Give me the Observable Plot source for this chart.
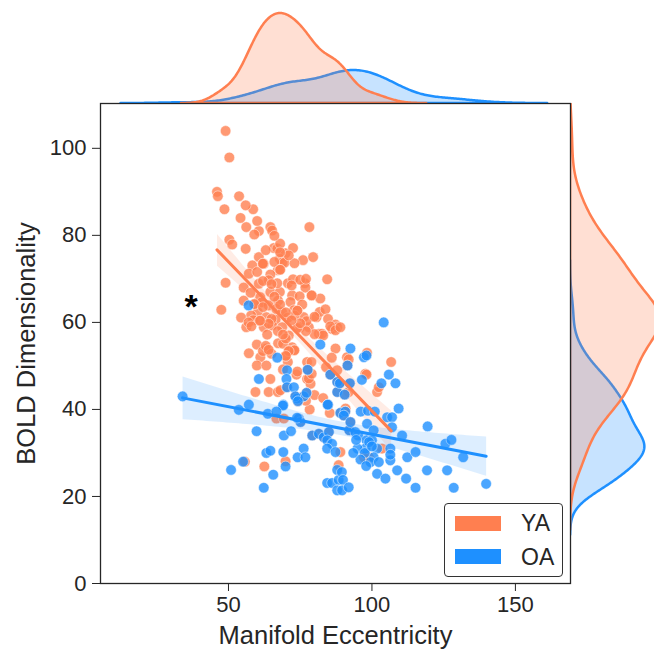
<!DOCTYPE html>
<html><head><meta charset="utf-8">
<script src="https://cdn.jsdelivr.net/npm/d3@7"></script>
<script src="https://cdn.jsdelivr.net/npm/@observablehq/plot@0.6"></script>
<style>
html,body{margin:0;padding:0;background:#fff;overflow:hidden}
#wrap{position:relative;width:654px;height:654px;overflow:hidden;font-family:"Liberation Sans",Arial,sans-serif;color:#262626;background:#fff}
#wrap > svg,#wrap > div{position:absolute}
#legend{left:444px;top:503px;width:119px;height:74px;border:1.3px solid #333;border-radius:4px;background:#fff;box-sizing:border-box}
#legend .row{position:absolute;left:10px;height:16px;display:flex;align-items:center}
#legend .sw{width:46px;height:15px}
#legend .lb{position:absolute;left:76px;font-size:23px;line-height:23px;color:#262626;white-space:nowrap}
</style></head><body><div id="wrap"></div>
<script>
// ---------- data ----------
const groups = ["YA", "OA"];
const groupColors = ["#FF7F50", "#1E90FF"];
const xLabel = "Manifold Eccentricity";
const yLabel = "BOLD Dimensionality";
const xTicks = [50, 100, 150];
const yTicks = [0, 20, 40, 60, 80, 100];
const xDomain = [5.4, 169.2];
const yDomain = [0, 110.3];

const yaX = [49,50.3,46,46.3,53.7,48.6,58.6,54.2,56.2,60.6,64.6,65.2,78.2,50.3,51.3,65.8,69.9,72.5,60.6,67.9,76,79.5,
  68.7,69.5,62.3,58.3,67.2,64.6,57.1,60,84.4,49,60.6,70.7,72.5,76.6,76.8,55.3,64.6,67.9,57.7,61.1,67.3,72.2,74.8,55.3,
  61.5,64,66.7,71.6,75.7,47.5,68.7,72.8,60.2,57.9,54.4,63.2,66.4,70.7,76.2,80.7,81.8,83.8,84.7,56.2,58.6,62.3,65.2,68.7,
  75.1,78,77.2,87.3,86.1,63.5,71,67.2,87.9,87.3,81.5,59.9,57.1,63.2,72.2,67.3,61.1,59.9,63.2,73.7,64.6,77.4,59.4,64,67.2,
  82.6,62,70.7,72.8,69,91.3,77.4,78.9,78.6,97.7,68.1,76,78.3,66.7,69.3,85.3,55.7,62.5,69.9,89,90.8,101.8,103.5,98.9,88.4,
  97.2,85.5,87.3,89,83,91.9,91.4,98.3,106.7,87.9,98.1,102.4,91.9,
  56,59,62,63,66,68,70,73,61,64,67,71,74,57,59,62,65,68,70,73,75,78,80,58,63,66,69,71,74,77,79,59,62,65,68,70,73,77,80,
  56,60,64,67,69,72,74,79,82,61,65,68,71,74,77,80,84,62,66,70,75,79,83,86,64,68,72,
  79.2,81.5,83.2,85,84.7,87.9,73.3,74.2,70.4,85.5,87.9,84.6,89,90.7,90.2,92.5,92.1,92.3,90.5,77.6,77.2,88.8,73.9,76.2,74.5,75.1];
const yaY = [104,97.9,90,89,89,86,86,84,81.9,81,81.9,81.1,81.9,79,77.9,77.1,75.9,77.1,75,74.6,74.3,75,
  73.7,73.7,73.5,73.1,72,71,71.2,71.6,69.9,69.1,68.9,69,69.9,69,68,68,67,67,66.8,65.8,65,66.2,66,65,
  64.6,63.9,63.1,64.7,64.1,62.9,62.4,62.8,62.4,61.6,61.1,61.2,60.6,61.1,61.2,61.2,62.4,63,60.8,58.9,60.5,58.9,59.3,58.9,
  58.9,58.9,60.3,59.5,58.5,57.2,57,58,58.9,54,57.4,54.9,52.9,54,54.3,55.2,52,50.1,50.1,48,47,47,44,44,44,
  57.4,53.4,50.9,53.6,55.1,52,50.9,50.9,45.9,48.2,44.4,43,40,37.9,37.9,39.2,28,26.9,28.1,30.2,40.2,44,31,29,27.2,
  29,59.1,58.2,58.9,57,51.5,50.1,53,50.9,49,48,45.1,44,
  86.9,64.2,73.5,54.6,73.9,64.1,56.3,73.6,60.4,69.7,77,53.4,62.7,60,80.2,69.5,60.8,78.1,52.3,61.6,69.8,47.1,57.3,
  59.1,76.6,65.9,57.2,75.4,48.7,58,66.2,64.2,73.5,52.8,72.1,62.3,53.6,70,43.3,
  76.9,83.3,59.7,69,49.2,68.5,58.7,48.2,65.5,60.4,68.8,76.1,53.4,62.7,42,61.3,49.7,
  63.5,79.9,52.3,59.8,66.2,42.6,51.9,53.7,72.1,60.5,
  34,34.4,33.6,34.8,41.1,44,43,41.9,45.1,48,46.3,41.1,39.2,39.5,38.6,37.1,35.2,46,43.4,49.1,43.8,46,42.5,43,37.9,37.1];

const oaX = [34,53.6,57.1,63.7,59.8,69.1,69.3,71.8,73.9,76.2,74.5,75.1,79.2,81.5,83.2,85,84.7,87.9,84.4,86.1,84.4,87.3,
  63.2,69.1,76.2,74.1,76.8,55.1,69.9,50.9,65.6,62.3,84.4,86.1,87.9,88.4,87.9,57,82,67,70.4,77.6,85.5,60.6,70.2,87.9,
  70.4,72.8,77.2,73.3,74.2,88.8,84.6,69,66.7,73.9,89,90.7,96.1,98.6,101,92.1,95.2,98.1,64.6,90.2,92.5,109.3,105.3,107,
  107,98.3,100.6,94.2,110.5,119.4,125.6,127.7,131.8,100,97.7,101.8,106.4,100.6,99.5,102.4,106.4,106.4,112.3,115.2,108.8,
  119.2,126.2,101.8,104.7,111.9,115.2,128.5,139.8,89.5,89.9,89.6,91.9,104.1,92.5,97.2,98.1,91.5,105.9,96.5,92.3,103.3,
  108.2,90.5,
  95,97.5,99,96,98,93.5,100,94.5];
const oaY = [43,39.9,41.1,39,35,41.1,34,35,42.5,43,37.9,37.1,34,34.4,33.6,34.8,41.1,44,32.9,32.1,31,30.2,
  30,30.2,31,29,29,28,26.9,26.1,25,22,23.1,23.1,26.1,23.8,21.4,63.9,54.9,51.9,49,49.1,48,47,47,46.3,
  45.1,45.1,43.8,43,41.9,46,41.1,40.9,39.5,38.1,39.2,39.5,39.5,39.7,39.5,35.2,34,32.9,30.5,38.6,37.1,40.2,38.2,38.2,
  35.9,36.7,35.2,34.8,34,36.1,32.1,33,29,32.9,31,31,31,29,27.9,27.9,28.3,29.6,29,30.2,26,
  26,26,25.2,24.1,24.1,22,22,22.9,25.6,23.8,21.4,22.1,60,54,52,52.4,50.1,48,46.8,46,46,
  46,43.4,
  31,30,32.5,28.5,27,30,31.5,33];

const annotations = [{x: 37, y: 65, text: "*"}];

// ---------- build ----------
const ya = yaX.map((x, i) => ({group: "YA", x, y: yaY[i]}));
const oa = oaX.map((x, i) => ({group: "OA", x, y: oaY[i]}));
const nTotal = ya.length + oa.length;
const [cYA, cOA] = groupColors;
const font = '"Liberation Sans", Arial, sans-serif';

function kde(values, N = 300) {
  const n = values.length, sd = d3.deviation(values);
  const bw = sd * Math.pow(n, -1 / 5);
  const lo = d3.min(values) - 3 * bw, hi = d3.max(values) + 3 * bw;
  const k = 1 / (n * bw * Math.sqrt(2 * Math.PI)) * (n / nTotal);
  return d3.range(N).map(i => {
    const g = lo + (hi - lo) * i / (N - 1);
    return {v: g, d: k * d3.sum(values, x => Math.exp(-0.5 * ((g - x) / bw) ** 2))};
  });
}

const wrap = document.getElementById("wrap");

const main = Plot.plot({
  width: 571, height: 654,
  marginLeft: 100, marginRight: 1, marginTop: 103, marginBottom: 71,
  style: {fontFamily: font, fontSize: "22px", color: "#262626", background: "transparent", overflow: "visible"},
  x: {domain: xDomain},
  y: {domain: yDomain},
  marks: [
    Plot.dot(ya, {x: "x", y: "y", r: 5.3, fill: cYA, fillOpacity: 0.8, stroke: "white", strokeWidth: 0.6, strokeOpacity: 0.8}),
    Plot.linearRegressionY(ya, {x: "x", y: "y", stroke: "none", fill: cYA, fillOpacity: 0.15}),
    Plot.dot(oa, {x: "x", y: "y", r: 5.3, fill: cOA, fillOpacity: 0.8, stroke: "white", strokeWidth: 0.6, strokeOpacity: 0.8}),
    Plot.linearRegressionY(oa, {x: "x", y: "y", stroke: "none", fill: cOA, fillOpacity: 0.15}),
    Plot.linearRegressionY(ya, {x: "x", y: "y", stroke: cYA, strokeWidth: 3, ci: 0}),
    Plot.linearRegressionY(oa, {x: "x", y: "y", stroke: cOA, strokeWidth: 3, ci: 0}),
    Plot.text(annotations, {x: "x", y: "y", text: "text", fontSize: 34, fontWeight: "bold", fill: "black", dy: 6}),
    Plot.frame({stroke: "#262626", strokeWidth: 1.3}),
    Plot.axisX({ticks: xTicks, tickSize: 8, tickPadding: 5, fontSize: 22,
      label: xLabel, labelAnchor: "center", labelArrow: "none", labelOffset: 60}),
    Plot.axisY({ticks: yTicks, tickSize: 8, tickPadding: 6, fontSize: 22,
      label: yLabel, labelAnchor: "center", labelArrow: "none", labelOffset: 84})
  ]
});
main.style.left = "0px"; main.style.top = "0px";
wrap.appendChild(main);

main.querySelectorAll("g[aria-label='x-axis label'] text, g[aria-label='y-axis label'] text").forEach(t => t.setAttribute("font-size", 25.5));

const topYA = kde(yaX), topOA = kde(oaX);
const topMax = d3.max([...topYA, ...topOA], d => d.d);
const topPlot = Plot.plot({
  width: 571, height: 103, marginLeft: 100, marginRight: 1, marginTop: 8.5, marginBottom: 0,
  style: {background: "transparent", overflow: "visible"},
  x: {domain: xDomain, axis: null},
  y: {domain: [0, topMax * 1.05], axis: null},
  marks: [
    Plot.areaY(topOA, {x: "v", y: "d", fill: cOA, fillOpacity: 0.25, stroke: cOA, strokeWidth: 2.5, clip: true}),
    Plot.areaY(topYA, {x: "v", y: "d", fill: cYA, fillOpacity: 0.25, stroke: cYA, strokeWidth: 2.5, clip: true})
  ]
});
topPlot.style.left = "0px"; topPlot.style.top = "0px";
wrap.insertBefore(topPlot, main);

const rYA = kde(yaY), rOA = kde(oaY);
const rMax = d3.max([...rYA, ...rOA], d => d.d);
const rightPlot = Plot.plot({
  width: 84, height: 654, marginLeft: 0, marginRight: 0, marginTop: 103, marginBottom: 71,
  style: {background: "transparent"},
  x: {domain: [0, rMax * 1.05], range: [0, 94.5], axis: null},
  y: {domain: yDomain, axis: null},
  marks: [
    Plot.areaX(rOA, {y: "v", x: "d", fill: cOA, fillOpacity: 0.25, stroke: cOA, strokeWidth: 2.5, clip: true}),
    Plot.areaX(rYA, {y: "v", x: "d", fill: cYA, fillOpacity: 0.25, stroke: cYA, strokeWidth: 2.5, clip: true})
  ]
});
rightPlot.style.left = "570px"; rightPlot.style.top = "0px";
wrap.insertBefore(rightPlot, main);

// legend
const legend = document.createElement("div");
legend.id = "legend";
groups.forEach((g, i) => {
  const row = document.createElement("div");
  row.className = "row";
  row.style.top = (11 + i * 33.5) + "px";
  row.innerHTML = `<div class="sw" style="background:${groupColors[i]}"></div>`;
  const lb = document.createElement("div");
  lb.className = "lb"; lb.textContent = g; lb.style.top = (8 + i * 33.5) + "px";
  legend.appendChild(row); legend.appendChild(lb);
});
wrap.appendChild(legend);
</script></body></html>
